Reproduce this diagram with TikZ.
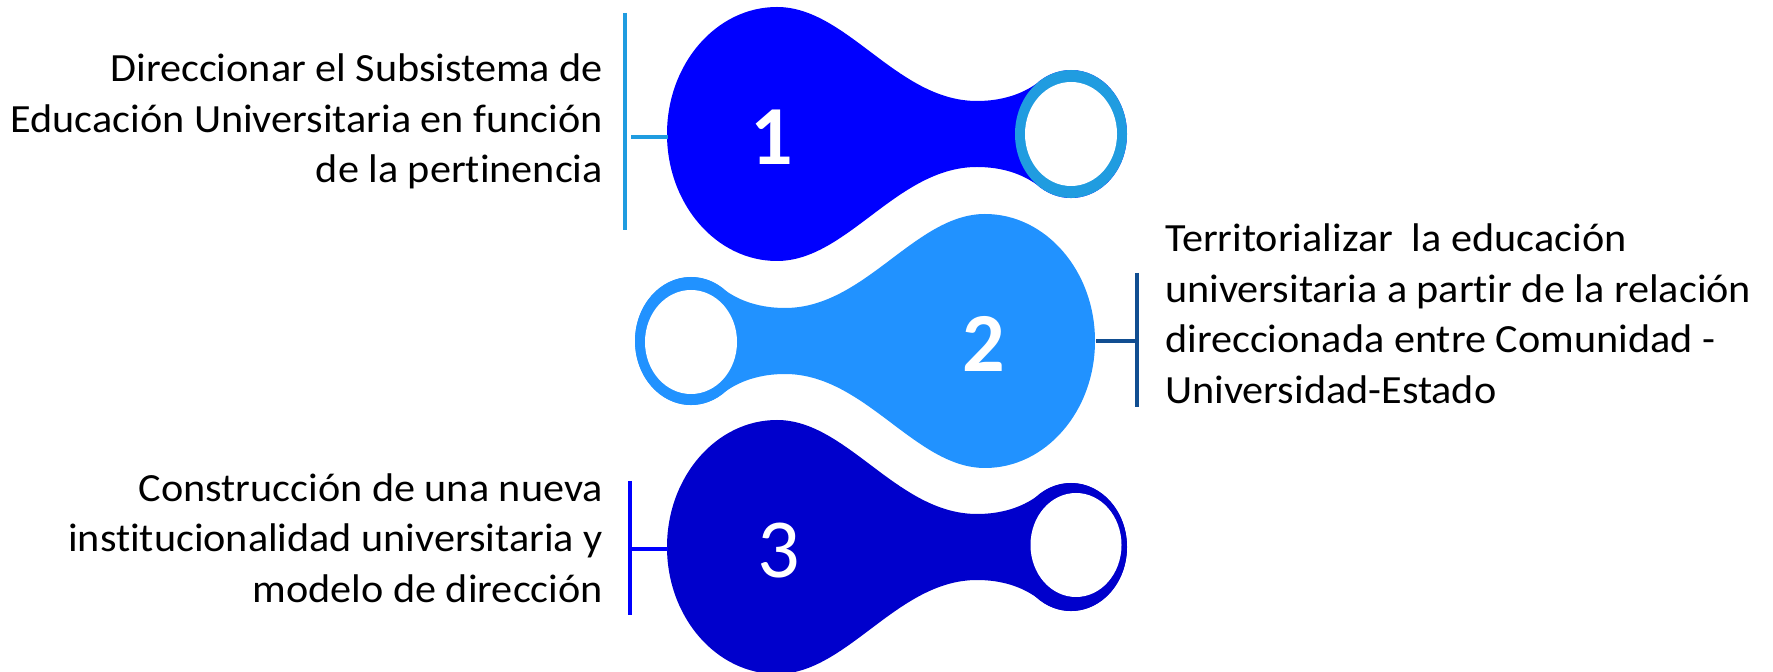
\documentclass[tikz,border=0pt]{standalone}
\usepackage{fontspec}
\setmainfont{Carlito}
\newfontfamily\txtfont[FakeStretch=1.055,Ligatures=CommonOff]{Carlito}
\definecolor{cA}{RGB}{0,0,255}
\definecolor{ringA}{RGB}{32,156,224}
\definecolor{cB}{RGB}{33,146,255}
\definecolor{brB}{RGB}{17,78,145}
\definecolor{cC}{RGB}{0,0,204}
\newcommand\dropshape[6]{%
  \begin{scope}[shift={#1}, xscale=#2]
    \fill[#3] (0,127) .. controls (70,127) and (120,33) .. (200,33)
      .. controls (225,33) and (245,40) .. (259.5,50.4)
      arc[start angle=128, end angle=-128, x radius=56, y radius=64]
      .. controls (245,-40) and (225,-33) .. (200,-33)
      .. controls (120,-33) and (70,-127) .. (0,-127)
      arc[start angle=-90, end angle=-270, x radius=110, y radius=127] -- cycle;
    \fill[#4] (294,0) ellipse[x radius=56, y radius=64];
    \fill[white] #5 ellipse[x radius=#6, y radius=52];
  \end{scope}}
\begin{document}
\begin{tikzpicture}[x=1pt,y=1pt,
  txt/.style={inner sep=0pt, text=black, font=\txtfont\fontsize{40}{50.5}\selectfont},
  num/.style={inner sep=0pt, text=white},
  brk/.style={line width=4pt}]
\useasboundingbox (0,0) rectangle (1773,672);
\fill[white] (0,0) rectangle (1773,672);

\dropshape{(777,538)}{1}{cA}{ringA}{(294,0)}{46}
\dropshape{(985,331)}{-1}{cB}{cB}{(294,-1)}{46}
\dropshape{(777,125)}{1}{cC}{cC}{(299,2)}{45.5}

\node[num, font=\fontsize{84}{84}\selectfont\bfseries] (n1) at (772,535) {1};
\node[num, font=\fontsize{84}{84}\selectfont\bfseries] (n2) at (984,328) {2};
\node[num, font=\fontsize{84}{84}\selectfont] (n3) at (779,121) {3};

% bracket 1
\coordinate (b1t) at (625,659);
\coordinate (b1b) at (625,442);
\coordinate (b1m) at (631,535);
\coordinate (d1) at (668,535);
\draw[ringA, brk] (b1t) -- (b1b);
\draw[ringA, brk] (b1m) -- (d1);
% bracket 2
\coordinate (b2t) at (1137,399);
\coordinate (b2b) at (1137,265);
\coordinate (b2m) at (1137,331);
\coordinate (d2) at (1096,331);
\draw[brB, brk] (b2t) -- (b2b);
\draw[brB, brk] (d2) -- (b2m);
% bracket 3
\coordinate (b3t) at (630,191);
\coordinate (b3b) at (630,57);
\coordinate (b3m) at (630,123);
\coordinate (d3) at (668,123);
\draw[cA, line width=3.2pt] (b3t) -- (b3b);
\draw[cA, line width=3.2pt] (b3m) -- (d3);

\node[txt, anchor=east, align=right] (t1) at (603,550.5) {Direccionar el Subsistema de\\Educación Universitaria en función\\de la pertinencia};
\node[txt, anchor=west, align=left] (t2) at (1165,358) {Territorializar\ \ la educación\\universitaria a partir de la relación\\direccionada entre Comunidad -\\Universidad-Estado};
\node[txt, anchor=east, align=right] (t3) at (603,134) {Construcción de una nueva\\institucionalidad universitaria y\\modelo de dirección};
\end{tikzpicture}
\end{document}
